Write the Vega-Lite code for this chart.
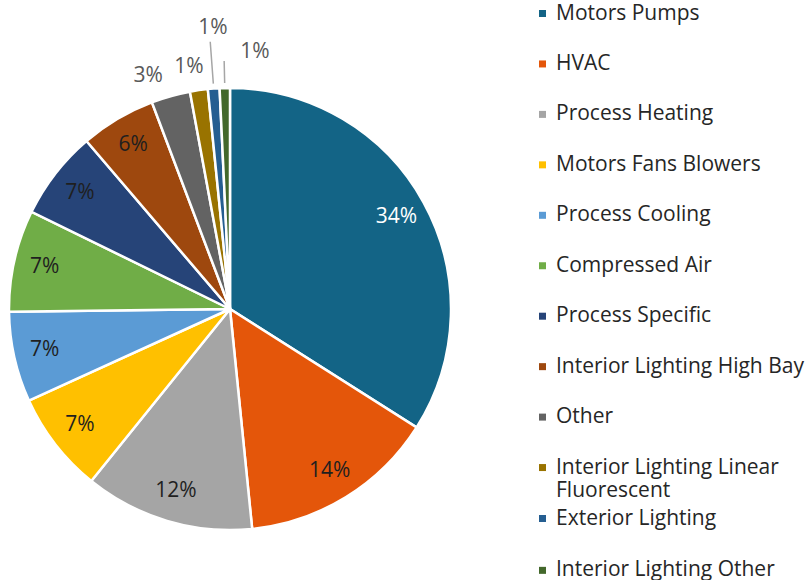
{
  "$schema": "https://vega.github.io/schema/vega-lite/v6.json",
  "width": 460,
  "height": 542,
  "autosize": "none",
  "padding": {"left": 0, "top": 38, "right": 350, "bottom": 0},
  "background": "white",
  "data": {
    "values": [
      {"idx": 1, "cat": "Motors Pumps", "value": 34.0, "label": "34%"},
      {"idx": 2, "cat": "HVAC", "value": 14.4, "label": "14%"},
      {"idx": 3, "cat": "Process Heating", "value": 12.4, "label": "12%"},
      {"idx": 4, "cat": "Motors Fans Blowers", "value": 7.4, "label": "7%"},
      {"idx": 5, "cat": "Process Cooling", "value": 6.6, "label": "7%"},
      {"idx": 6, "cat": "Compressed Air", "value": 7.45, "label": "7%"},
      {"idx": 7, "cat": "Process Specific", "value": 6.5, "label": "7%"},
      {"idx": 8, "cat": "Interior Lighting High Bay", "value": 5.5, "label": "6%"},
      {"idx": 9, "cat": "Other", "value": 2.85, "label": "3%"},
      {"idx": 10, "cat": "Interior Lighting Linear Fluorescent", "value": 1.3, "label": "1%"},
      {"idx": 11, "cat": "Exterior Lighting", "value": 0.85, "label": "1%"},
      {"idx": 12, "cat": "Interior Lighting Other", "value": 0.75, "label": "1%"}
    ]
  },
  "encoding": {
    "theta": {"field": "value", "type": "quantitative", "stack": true},
    "order": {"field": "idx", "type": "quantitative"}
  },
  "layer": [
    {
      "mark": {"type": "arc", "outerRadius": 221, "stroke": "white", "strokeWidth": 2.5},
      "encoding": {
        "color": {
          "field": "cat",
          "type": "nominal",
          "scale": {
            "domain": ["Motors Pumps", "HVAC", "Process Heating", "Motors Fans Blowers", "Process Cooling", "Compressed Air", "Process Specific", "Interior Lighting High Bay", "Other", "Interior Lighting Linear Fluorescent", "Exterior Lighting", "Interior Lighting Other"],
            "range": ["#136486", "#E4560A", "#A5A5A5", "#FFC000", "#5B9BD5", "#70AD47", "#264478", "#9E480E", "#636363", "#997300", "#255E91", "#43682B"]
          },
          "legend": null
        }
      }
    },
    {
      "mark": {"type": "text"},
      "encoding": {
        "text": {"value": ""},
        "fill": {
          "field": "cat",
          "type": "nominal",
          "scale": {
            "domain": ["Motors Pumps", "HVAC", "Process Heating", "Motors Fans Blowers", "Process Cooling", "Compressed Air", "Process Specific", "Interior Lighting High Bay", "Other", "Interior Lighting Linear Fluorescent"],
            "range": ["#136486", "#E4560A", "#A5A5A5", "#FFC000", "#5B9BD5", "#70AD47", "#264478", "#9E480E", "#636363", "#997300"]
          },
          "legend": {
            "orient": "none",
            "legendX": 532,
            "legendY": -35,
            "title": null,
            "symbolType": "square",
            "symbolSize": 49,
            "symbolStrokeWidth": 0,
            "labelFont": "Open Sans",
            "labelFontSize": 21,
            "labelColor": "#262626",
            "rowPadding": 28.45,
            "labelOffset": 3,
            "padding": 0,
            "labelLimit": 400,
            "labelExpr": "datum.label === 'Interior Lighting Linear Fluorescent' ? ['Interior Lighting Linear', 'Fluorescent'] : datum.label"
          }
        }
      }
    },
    {
      "mark": {"type": "text"},
      "encoding": {
        "text": {"value": ""},
        "stroke": {
          "field": "cat",
          "type": "nominal",
          "scale": {
            "domain": ["Exterior Lighting", "Interior Lighting Other"],
            "range": ["#255E91", "#43682B"]
          },
          "legend": {
            "orient": "none",
            "legendX": 532,
            "legendY": 470,
            "title": null,
            "symbolType": "square",
            "symbolSize": 1,
            "symbolStrokeWidth": 6,
            "labelFont": "Open Sans",
            "labelFontSize": 21,
            "labelColor": "#262626",
            "rowPadding": 26.85,
            "labelOffset": 3,
            "padding": 0,
            "labelLimit": 400
          }
        }
      }
    },
    {
      "mark": {"type": "text", "radius": 190, "font": "Open Sans", "fontSize": 21},
      "encoding": {
        "detail": {"field": "cat"},
        "text": {"condition": {"test": "datum.value >= 5", "field": "label"}, "value": ""},
        "color": {"condition": {"test": "datum.cat === 'Motors Pumps'", "value": "white"}, "value": "#1f1f1f"}
      }
    },
    {
      "mark": {"type": "text", "radius": 247, "dx": -15.6, "dy": 4.9, "font": "Open Sans", "fontSize": 21, "color": "#595959"},
      "encoding": {
        "detail": {"field": "cat"},
        "text": {"condition": {"test": "datum.cat === 'Other'", "field": "label"}, "value": ""}
      }
    },
    {
      "mark": {"type": "text", "radius": 245, "dx": -6.5, "dy": 0.6, "font": "Open Sans", "fontSize": 21, "color": "#595959"},
      "encoding": {
        "detail": {"field": "cat"},
        "text": {"condition": {"test": "datum.cat === 'Interior Lighting Linear Fluorescent'", "field": "label"}, "value": ""}
      }
    },
    {
      "mark": {"type": "text", "radius": 282, "dx": 3.8, "font": "Open Sans", "fontSize": 21, "color": "#595959"},
      "encoding": {
        "detail": {"field": "cat"},
        "text": {"condition": {"test": "datum.cat === 'Exterior Lighting'", "field": "label"}, "value": ""}
      }
    },
    {
      "mark": {"type": "text", "radius": 257, "dx": 31, "font": "Open Sans", "fontSize": 21, "color": "#595959"},
      "encoding": {
        "detail": {"field": "cat"},
        "text": {"condition": {"test": "datum.cat === 'Interior Lighting Other'", "field": "label"}, "value": ""}
      }
    },
    {
      "mark": {"type": "arc", "outerRadius": 268, "innerRadius": 226, "padAngle": 0.3, "fillOpacity": 0, "stroke": "#A6A6A6", "strokeWidth": 1.5},
      "encoding": {
        "detail": {"field": "cat"},
        "strokeOpacity": {"condition": {"test": "datum.cat === 'Exterior Lighting'", "value": 1}, "value": 0}
      }
    },
    {
      "mark": {"type": "arc", "outerRadius": 248, "innerRadius": 226, "padAngle": 0.3, "fillOpacity": 0, "stroke": "#A6A6A6", "strokeWidth": 1.5},
      "encoding": {
        "detail": {"field": "cat"},
        "strokeOpacity": {"condition": {"test": "datum.cat === 'Interior Lighting Other'", "value": 1}, "value": 0}
      }
    }
  ],
  "config": {"view": {"stroke": null}}
}
